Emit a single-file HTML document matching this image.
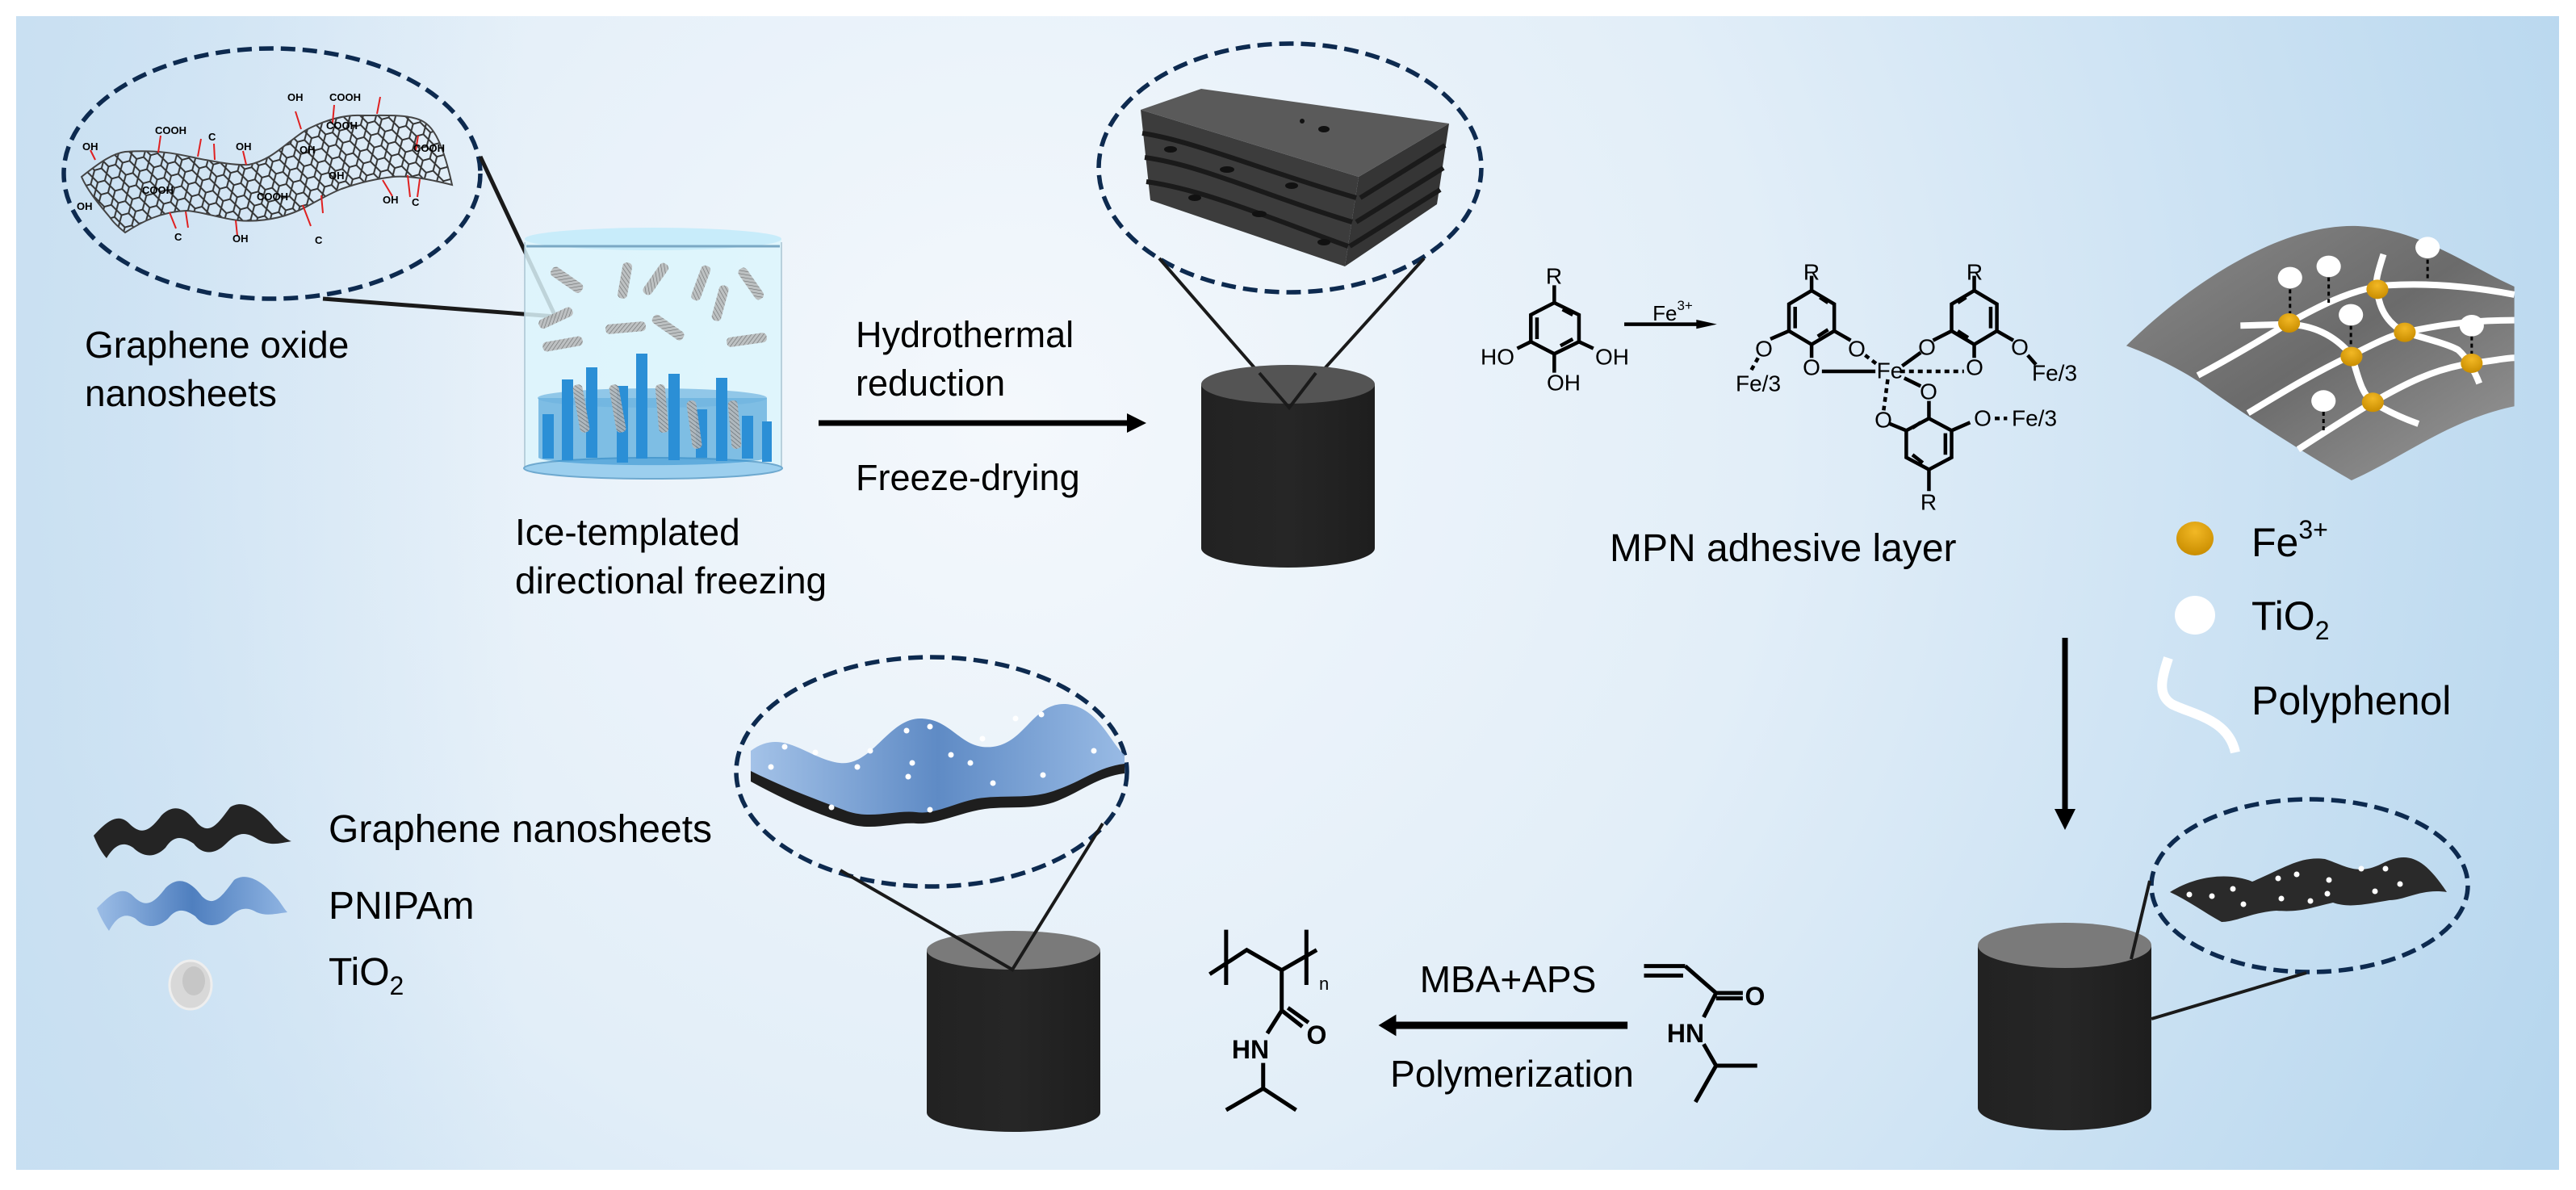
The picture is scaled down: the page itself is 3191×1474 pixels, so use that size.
<!DOCTYPE html>
<html><head><meta charset="utf-8"><style>
html,body{margin:0;padding:0;background:#fff;}
svg{display:block;}
text{font-family:"Liberation Sans",Arial,sans-serif;fill:#000;}
</style></head><body>
<svg width="3191" height="1474" viewBox="0 0 3191 1474" xmlns="http://www.w3.org/2000/svg">
<defs>
<radialGradient id="bg" cx="1250" cy="520" r="2100" gradientUnits="userSpaceOnUse">
<stop offset="0" stop-color="#f4f8fc"/><stop offset="0.45" stop-color="#e2eef8"/><stop offset="1" stop-color="#b6d6ee"/>
</radialGradient>
<linearGradient id="lg" x1="0" x2="1" y1="0" y2="0"><stop offset="0" stop-color="#c6def1" stop-opacity="0.8"/><stop offset="0.2" stop-color="#c6def1" stop-opacity="0"/></linearGradient>
<linearGradient id="cyl" x1="0" x2="1"><stop offset="0" stop-color="#222"/><stop offset="0.5" stop-color="#262626"/><stop offset="1" stop-color="#1e1e1e"/></linearGradient>
<radialGradient id="fe" cx="0.5" cy="0.3" r="0.7"><stop offset="0" stop-color="#f2b825"/><stop offset="1" stop-color="#c98d00"/></radialGradient>
<linearGradient id="sheet" x1="0" y1="0" x2="1" y2="1"><stop offset="0" stop-color="#8a8a8a"/><stop offset="0.5" stop-color="#6b6b6b"/><stop offset="1" stop-color="#9a9a9a"/></linearGradient>
<linearGradient id="blue" x1="0" x2="1"><stop offset="0" stop-color="#9cbde6"/><stop offset="0.5" stop-color="#4f7fbf"/><stop offset="1" stop-color="#8fb4e2"/></linearGradient>
<pattern id="hex" width="18" height="15.6" patternUnits="userSpaceOnUse" patternTransform="rotate(-15)">
<path d="M0,7.8 L4.5,0 L13.5,0 L18,7.8 L13.5,15.6 L4.5,15.6 Z" fill="none" stroke="#333" stroke-width="2"/>
</pattern>
<pattern id="hatch" width="4" height="4" patternUnits="userSpaceOnUse" patternTransform="rotate(45)">
<rect width="4" height="4" fill="#b8b8b8"/><line x1="0" y1="0" x2="0" y2="4" stroke="#555" stroke-width="1.2"/>
</pattern>
</defs>

<rect width="3191" height="1474" fill="#fff"/>
<rect x="20" y="20" width="3150" height="1429" fill="url(#bg)"/>
<rect x="20" y="20" width="3150" height="1429" fill="url(#lg)"/>

<!-- ===== Top-left GO ellipse ===== -->
<g>
<path d="M101,219 C125,200 140,190 155,188 C200,185 225,192 244,196 C270,201 290,205 308,204 C340,198 360,170 385,158 C410,146 430,142 448,143 C475,143 495,142 512,146 C530,150 545,160 560,229 C540,224 510,217 487,219 C460,222 440,228 423,234 C400,243 380,258 359,265 C340,272 315,275 295,273 C270,270 250,262 231,261 C200,262 175,275 155,288 C145,280 140,275 136,269 C120,250 108,235 101,219 Z" fill="url(#hex)" stroke="#444" stroke-width="2"/>
<g stroke="#e02020" stroke-width="2">
<line x1="118" y1="198" x2="112" y2="186"/><line x1="196" y1="189" x2="199" y2="168"/><line x1="245" y1="194" x2="249" y2="172"/><line x1="266" y1="198" x2="265" y2="178"/>
<line x1="305" y1="204" x2="301" y2="187"/><line x1="373" y1="160" x2="366" y2="138"/><line x1="412" y1="152" x2="414" y2="130"/><line x1="467" y1="141" x2="471" y2="120"/>
<line x1="515" y1="186" x2="518" y2="168"/><line x1="210" y1="263" x2="218" y2="283"/><line x1="230" y1="262" x2="233" y2="282"/><line x1="292" y1="273" x2="294" y2="292"/>
<line x1="375" y1="254" x2="385" y2="280"/><line x1="398" y1="242" x2="400" y2="264"/><line x1="474" y1="223" x2="486" y2="243"/><line x1="505" y1="217" x2="508" y2="244"/><line x1="520" y1="222" x2="517" y2="244"/>
</g>
<g font-size="13" font-weight="bold">
<text x="102" y="186">OH</text><text x="192" y="166">COOH</text><text x="258" y="174">C</text><text x="292" y="186">OH</text><text x="356" y="125">OH</text>
<text x="408" y="125">COOH</text><text x="404" y="160">COOH</text><text x="371" y="190">OH</text><text x="512" y="188">COOH</text><text x="407" y="222">OH</text>
<text x="176" y="240">COOH</text><text x="318" y="248">COOH</text><text x="216" y="298">C</text><text x="288" y="300">OH</text><text x="390" y="302">C</text><text x="474" y="252">OH</text><text x="510" y="255">C</text><text x="95" y="260">OH</text>
</g>
<ellipse cx="337" cy="215" rx="258" ry="155" fill="none" stroke="#0d2a4f" stroke-width="5.5" stroke-dasharray="18,9"/>
<polyline points="400,370 688,392 595,194" fill="none" stroke="#1a1a1a" stroke-width="5"/>
</g>

<!-- Beaker -->
<g>
<path d="M650,296 L650,578 L968,578 L968,296 Z" fill="#dcf4fc" opacity="0.85"/>
<ellipse cx="809" cy="296" rx="159" ry="14" fill="#c8ecfa"/>
<line x1="652" y1="305" x2="966" y2="305" stroke="#7aa8c4" stroke-width="3"/>
<line x1="650" y1="300" x2="650" y2="578" stroke="#a9c4d2" stroke-width="1.5"/>
<line x1="968" y1="300" x2="968" y2="578" stroke="#a9c4d2" stroke-width="1.5"/>
<ellipse cx="809" cy="580" rx="160" ry="13" fill="#9ccfee" stroke="#6ea9cf" stroke-width="2"/>
<path d="M667,493 L667,567 A142,10 0 0 0 950,567 L950,493 Z" fill="#2f8fd0" opacity="0.55"/>
<ellipse cx="808" cy="493" rx="142" ry="12" fill="#6fb3e0" opacity="0.7"/>
<g fill="#2b8fd6">
<rect x="672" y="513" width="14" height="55"/><rect x="696" y="470" width="14" height="100"/><rect x="726" y="455" width="14" height="112"/>
<rect x="764" y="478" width="14" height="95"/><rect x="788" y="438" width="14" height="130"/><rect x="828" y="463" width="14" height="107"/>
<rect x="862" y="507" width="14" height="60"/><rect x="887" y="468" width="14" height="103"/><rect x="919" y="515" width="14" height="53"/><rect x="944" y="522" width="12" height="50"/>
</g>
<g fill="url(#hatch)" opacity="0.85">
<rect x="680" y="340" width="45" height="13" rx="5" transform="rotate(35 702 346)"/>
<rect x="752" y="342" width="45" height="12" rx="5" transform="rotate(-80 774 348)"/>
<rect x="790" y="340" width="45" height="12" rx="5" transform="rotate(-55 812 346)"/>
<rect x="846" y="345" width="45" height="12" rx="5" transform="rotate(-70 868 351)"/>
<rect x="908" y="345" width="45" height="12" rx="5" transform="rotate(55 930 351)"/>
<rect x="666" y="388" width="45" height="12" rx="5" transform="rotate(-25 688 394)"/>
<rect x="750" y="400" width="50" height="12" rx="5" transform="rotate(-5 775 406)"/>
<rect x="805" y="400" width="45" height="12" rx="5" transform="rotate(35 828 406)"/>
<rect x="870" y="370" width="45" height="12" rx="5" transform="rotate(-75 892 376)"/>
<rect x="900" y="415" width="50" height="12" rx="5" transform="rotate(-8 925 421)"/>
<rect x="672" y="420" width="50" height="12" rx="5" transform="rotate(-10 697 426)"/>
<rect x="690" y="500" width="60" height="12" rx="5" transform="rotate(80 720 506)"/>
<rect x="735" y="500" width="60" height="12" rx="5" transform="rotate(80 765 506)"/>
<rect x="790" y="500" width="60" height="12" rx="5" transform="rotate(85 820 506)"/>
<rect x="830" y="520" width="60" height="12" rx="5" transform="rotate(82 860 526)"/>
<rect x="880" y="520" width="60" height="12" rx="5" transform="rotate(85 910 526)"/>
</g>
</g>
<g font-size="46">
<text x="105" y="443">Graphene oxide</text><text x="105" y="503">nanosheets</text>
<text x="638" y="675">Ice-templated</text><text x="638" y="735">directional freezing</text>
<text x="1060" y="430" font-size="45">Hydrothermal</text><text x="1060" y="490" font-size="45">reduction</text>
<text x="1060" y="607" font-size="45">Freeze-drying</text>
</g>
<line x1="1014" y1="524" x2="1398" y2="524" stroke="#000" stroke-width="7"/>
<polygon points="1420,524 1396,512 1396,536" fill="#000"/>

<!-- top middle -->
<ellipse cx="1598" cy="208" rx="237" ry="154" fill="none" stroke="#0d2a4f" stroke-width="5.5" stroke-dasharray="18,9"/>
<g>
<polygon points="1413,136 1683,219 1666,330 1425,248" fill="#3c3c3c"/>
<polygon points="1683,219 1795,153 1780,253 1666,330" fill="#353535"/>
<polygon points="1413,136 1488,110 1795,153 1683,219" fill="#5a5a5a"/>
<g stroke="#1a1a1a" stroke-width="6" fill="none">
<path d="M1415,165 C1480,175 1560,210 1680,245"/><path d="M1418,195 C1490,205 1560,240 1675,275"/><path d="M1420,225 C1490,235 1560,265 1670,305"/>
<path d="M1685,245 L1790,180"/><path d="M1680,275 L1788,208"/><path d="M1672,305 L1784,235"/>
</g>
<g fill="#111"><ellipse cx="1450" cy="185" rx="8" ry="4"/><ellipse cx="1520" cy="210" rx="9" ry="4"/><ellipse cx="1600" cy="230" rx="8" ry="4"/><ellipse cx="1480" cy="245" rx="8" ry="4"/><ellipse cx="1560" cy="265" rx="9" ry="4"/><ellipse cx="1640" cy="300" rx="8" ry="4"/><ellipse cx="1640" cy="160" rx="7" ry="4"/><circle cx="1613" cy="150" r="3"/></g>
</g>
<polyline points="1436,320 1597,505 1764,320" fill="none" stroke="#1a1a1a" stroke-width="4"/>
<path d="M1488,476 L1488,679 A107.5,24 0 0 0 1703,679 L1703,476 Z" fill="url(#cyl)"/>
<ellipse cx="1595.5" cy="476" rx="107.5" ry="24" fill="#545454"/>
<polyline points="1560,462 1597,505 1630,462" fill="none" stroke="#1a1a1a" stroke-width="4"/>

<!-- chemistry top -->
<g transform="translate(1780,160) scale(0.51,0.3333)" fill="none" stroke="#000" stroke-width="4.5">
<path vector-effect="non-scaling-stroke" d="M285,645 L345,690 L345,790 L285,835 L228,790 L228,690 Z M285,645 L285,580 M228,790 L195,815 M345,790 L380,815 M285,835 L285,905 M305,670 L330,690 M330,780 L300,805 M243,700 L243,780"/>
<path vector-effect="non-scaling-stroke" d="M455,725 L640,725"/>
<path vector-effect="non-scaling-stroke" d="M910,600 L965,650 L965,750 L910,800 L855,750 L855,650 Z M910,600 L910,545 M930,625 L950,645 M950,745 L925,770 M870,660 L870,740 M965,750 L1005,785 M910,800 L910,850 M855,750 L810,780 M935,900 L1065,900"/>
<path vector-effect="non-scaling-stroke" d="M1305,600 L1360,650 L1360,750 L1305,800 L1250,750 L1250,650 Z M1305,600 L1305,545 M1285,625 L1265,645 M1345,660 L1345,740 M1290,775 L1265,750 M1250,750 L1205,785 M1305,800 L1305,850 M1360,750 L1400,785 M1175,830 L1130,880 M1435,840 L1455,875"/>
<path vector-effect="non-scaling-stroke" d="M1195,1075 L1250,1120 L1250,1220 L1195,1265 L1140,1220 L1140,1120 Z M1195,1265 L1195,1345 M1235,1130 L1235,1210 M1155,1210 L1180,1240 M1175,1090 L1155,1110 M1195,1075 L1195,1010 M1140,1120 L1100,1095 M1250,1120 L1295,1090 M1175,955 L1135,925"/>
<path vector-effect="non-scaling-stroke" stroke-dasharray="6,5" d="M780,850 L760,905 M1040,840 L1070,875 M1125,900 L1280,900 M1095,930 L1085,1045 M1355,1075 L1385,1075"/>
<polygon points="680,725 630,708 630,742" fill="#000" stroke="none"/>
</g>
<g font-size="28" text-anchor="middle" dominant-baseline="central">
<text x="1925" y="342">R</text><text x="1855" y="442">HO</text><text x="1997" y="442">OH</text><text x="1937" y="474">OH</text>
<text x="2072" y="388" font-size="26">Fe<tspan font-size="17" dy="-10">3+</tspan></text>
<text x="2244" y="337">R</text><text x="2446" y="337">R</text><text x="2389" y="622">R</text>
<text x="2300" y="432">O</text><text x="2244" y="455">O</text><text x="2185" y="432">O</text><text x="2341" y="459">Fe</text>
<text x="2387" y="430">O</text><text x="2446" y="455">O</text><text x="2502" y="430">O</text><text x="2389" y="485">O</text>
<text x="2333" y="520">O</text><text x="2456" y="518">O</text>
<text x="2178" y="475">Fe/3</text><text x="2545" y="462">Fe/3</text><text x="2520" y="518">Fe/3</text>
</g>
<text x="1994" y="695" font-size="48">MPN adhesive layer</text>

<!-- top-right sheet -->
<g transform="translate(2600,200) scale(0.377,0.3333)">
<path d="M90,685 C300,450 600,230 850,240 C1050,250 1200,380 1365,465 L1365,910 C1150,960 1000,1100 830,1185 C700,1100 500,960 330,820 C250,760 150,710 90,685 Z" fill="url(#sheet)"/>
<g fill="none" stroke="#fff" stroke-width="8">
<path vector-effect="non-scaling-stroke" d="M325,795 C450,720 550,650 625,600 C750,520 850,470 950,460 C1100,450 1250,470 1365,495"/>
<path vector-effect="non-scaling-stroke" d="M465,610 L625,605 C700,610 770,640 830,720 C850,790 860,860 900,895 C950,930 1000,955 1050,975"/>
<path vector-effect="non-scaling-stroke" d="M490,935 C600,860 700,790 830,720 C900,680 950,650 1005,635 C1150,600 1250,590 1365,590"/>
<path vector-effect="non-scaling-stroke" d="M655,1070 C750,1000 820,950 900,895 C1000,830 1100,770 1225,750 C1300,740 1340,730 1365,730"/>
<path vector-effect="non-scaling-stroke" d="M935,345 C920,400 905,450 915,475 C920,560 960,610 1005,635 C1080,660 1150,680 1180,700 C1210,730 1235,780 1250,825"/>
</g>
<g stroke="#000" stroke-width="3" stroke-dasharray="5,4">
<line vector-effect="non-scaling-stroke" x1="628" y1="475" x2="628" y2="565"/><line vector-effect="non-scaling-stroke" x1="755" y1="430" x2="755" y2="525"/>
<line vector-effect="non-scaling-stroke" x1="828" y1="610" x2="828" y2="690"/><line vector-effect="non-scaling-stroke" x1="1080" y1="365" x2="1080" y2="440"/>
<line vector-effect="non-scaling-stroke" x1="1225" y1="650" x2="1225" y2="720"/><line vector-effect="non-scaling-stroke" x1="738" y1="930" x2="738" y2="1000"/>
</g>
<g fill="url(#fe)"><circle cx="625" cy="600" r="36"/><circle cx="915" cy="475" r="36"/><circle cx="1005" cy="635" r="36"/><circle cx="830" cy="725" r="36"/><circle cx="1225" cy="750" r="36"/><circle cx="900" cy="895" r="36"/></g>
<g fill="#fff"><circle cx="628" cy="432" r="40"/><circle cx="755" cy="390" r="40"/><circle cx="828" cy="570" r="40"/><circle cx="1080" cy="320" r="40"/><circle cx="1225" cy="610" r="40"/><circle cx="738" cy="890" r="40"/></g>
</g>

<!-- legend right -->
<ellipse cx="2719" cy="667" rx="23" ry="21" fill="url(#fe)"/>
<ellipse cx="2719" cy="762" rx="25" ry="24" fill="#fff"/>
<path d="M2686,815 C2678,840 2672,860 2690,872 C2715,885 2760,890 2769,932" fill="none" stroke="#fff" stroke-width="12"/>
<g font-size="50">
<text x="2789" y="689">Fe<tspan font-size="32" dy="-22">3+</tspan></text>
<text x="2789" y="780">TiO<tspan font-size="32" dy="12">2</tspan></text>
<text x="2789" y="885">Polyphenol</text>
</g>
<line x1="2558" y1="790" x2="2558" y2="1005" stroke="#000" stroke-width="7"/>
<polygon points="2558,1028 2545,1002 2571,1002" fill="#000"/>

<!-- bottom-right -->
<ellipse cx="2861" cy="1097" rx="196" ry="107" fill="none" stroke="#0d2a4f" stroke-width="5.5" stroke-dasharray="18,9"/>
<path d="M2688,1105 C2720,1085 2760,1080 2790,1092 C2830,1075 2850,1060 2880,1064 C2905,1072 2920,1085 2950,1070 C2980,1055 3000,1058 3031,1105 C3000,1100 2980,1115 2960,1115 C2930,1120 2910,1125 2890,1118 C2860,1125 2850,1130 2820,1128 C2790,1130 2770,1142 2752,1142 C2730,1130 2710,1115 2688,1105 Z" fill="#2a2a2a"/>
<g fill="#fff"><circle cx="2712" cy="1108" r="3.5"/><circle cx="2740" cy="1110" r="3.5"/><circle cx="2766" cy="1101" r="3.5"/><circle cx="2779" cy="1120" r="3.5"/><circle cx="2822" cy="1088" r="3.5"/><circle cx="2845" cy="1083" r="3.5"/><circle cx="2826" cy="1113" r="3.5"/><circle cx="2862" cy="1116" r="3.5"/><circle cx="2885" cy="1090" r="3.5"/><circle cx="2883" cy="1107" r="3.5"/><circle cx="2925" cy="1076" r="3.5"/><circle cx="2955" cy="1076" r="3.5"/><circle cx="2942" cy="1104" r="3.5"/><circle cx="2973" cy="1095" r="3.5"/></g>
<path d="M2450,1171 L2450,1372 A107.5,28 0 0 0 2665,1372 L2665,1171 Z" fill="url(#cyl)"/>
<ellipse cx="2557.5" cy="1171" rx="107.5" ry="28" fill="#7a7a7a"/>
<line x1="2663" y1="1091" x2="2640" y2="1188" stroke="#1a1a1a" stroke-width="4"/>
<line x1="2857" y1="1205" x2="2665" y2="1262" stroke="#1a1a1a" stroke-width="4"/>

<!-- bottom chemistry -->
<g transform="translate(1450,1100) scale(0.51,0.3333)" fill="none" stroke="#000" stroke-width="5">
<path vector-effect="non-scaling-stroke" d="M135,155 L135,360 M330,155 L330,360 M95,320 L185,230 L270,305 L355,230 M270,305 L270,455 M270,455 L320,515 M285,445 L335,500 M270,455 L235,540 M225,650 L225,745 M135,825 L225,745 L305,825"/>
<path vector-effect="non-scaling-stroke" d="M1150,290 L1250,290 M1150,325 L1245,325 M1250,290 L1325,390 M1325,390 L1390,390 M1325,410 L1390,410 M1325,390 L1295,480 M1295,580 L1325,660 L1425,660 M1325,660 L1275,795"/>
<path vector-effect="non-scaling-stroke" stroke-width="9" d="M1110,510 L540,510"/>
<polygon points="505,510 548,470 548,550" fill="#000" stroke="none"/>
</g>
<g font-weight="bold" font-size="32" text-anchor="middle" dominant-baseline="central">
<text x="1631" y="1282">O</text><text x="1549" y="1300">HN</text>
<text x="2174" y="1234">O</text><text x="2088" y="1280">HN</text>
</g>
<text x="1634" y="1226" font-size="22">n</text>
<text x="1868" y="1229" font-size="46" text-anchor="middle">MBA+APS</text>
<text x="1873" y="1346" font-size="46" text-anchor="middle">Polymerization</text>

<!-- bottom-middle -->
<ellipse cx="1154" cy="956" rx="242" ry="142" fill="none" stroke="#0d2a4f" stroke-width="5.5" stroke-dasharray="18,9"/>
<path d="M930,930 C970,900 1000,940 1040,945 C1080,950 1100,890 1140,890 C1180,890 1190,930 1230,925 C1270,920 1280,870 1320,872 C1360,875 1375,920 1393,935 L1393,955 C1370,950 1350,975 1310,985 C1270,995 1250,995 1220,995 C1180,995 1160,1020 1130,1015 C1100,1010 1080,1020 1050,1012 C1010,1000 970,975 930,960 Z" fill="url(#blue)" opacity="0.9"/>
<path d="M930,955 C970,975 1010,990 1050,1005 C1080,1015 1110,1003 1135,1006 C1160,1010 1190,990 1220,988 C1250,985 1280,990 1310,978 C1340,968 1360,950 1393,946 L1393,958 C1360,962 1340,980 1310,992 C1280,1004 1250,998 1220,1002 C1190,1006 1160,1022 1135,1020 C1110,1018 1080,1030 1050,1020 C1010,1008 970,990 930,968 Z" fill="#1e1e1e"/>
<g fill="#fff"><circle cx="972" cy="925" r="3.5"/><circle cx="1010" cy="932" r="3.5"/><circle cx="1078" cy="930" r="3.5"/><circle cx="1123" cy="905" r="3.5"/><circle cx="1152" cy="900" r="3.5"/><circle cx="1217" cy="915" r="3.5"/><circle cx="1258" cy="890" r="3.5"/><circle cx="1290" cy="885" r="3.5"/><circle cx="1062" cy="950" r="3.5"/><circle cx="1130" cy="945" r="3.5"/><circle cx="1178" cy="935" r="3.5"/><circle cx="1202" cy="945" r="3.5"/><circle cx="1125" cy="962" r="3.5"/><circle cx="955" cy="950" r="3.5"/><circle cx="1030" cy="1000" r="3.5"/><circle cx="1152" cy="1003" r="3.5"/><circle cx="1230" cy="970" r="3.5"/><circle cx="1292" cy="960" r="3.5"/><circle cx="1355" cy="930" r="3.5"/></g>
<path d="M1148,1177 L1148,1378 A107.5,24 0 0 0 1363,1378 L1363,1177 Z" fill="url(#cyl)"/>
<ellipse cx="1255.5" cy="1177" rx="107.5" ry="24" fill="#7a7a7a"/>
<polyline points="1041,1078 1254,1201 1366,1020" fill="none" stroke="#1a1a1a" stroke-width="4"/>

<!-- bottom-left legend -->
<path d="M116,1035 C130,1020 145,1005 160,1020 C175,1035 185,1030 200,1010 C215,995 230,1000 245,1020 C260,1035 270,1020 285,1000 C300,990 320,1000 340,1025 C350,1035 355,1040 361,1042 C345,1045 335,1048 320,1040 C305,1030 295,1030 280,1045 C265,1060 250,1058 240,1045 C225,1035 215,1035 205,1050 C190,1065 175,1060 165,1050 C150,1040 140,1050 132,1063 C125,1055 120,1045 116,1035 Z" fill="#242424"/>
<path d="M120,1125 C135,1110 150,1095 165,1110 C180,1125 190,1120 205,1100 C220,1085 235,1090 250,1110 C265,1125 275,1110 290,1090 C305,1080 325,1090 345,1115 C350,1122 353,1127 356,1130 C340,1132 330,1135 318,1130 C305,1122 295,1125 282,1138 C268,1150 252,1148 242,1135 C228,1125 218,1125 208,1138 C192,1152 178,1148 168,1138 C152,1128 142,1140 135,1153 C128,1143 124,1135 120,1125 Z" fill="url(#blue)"/>
<ellipse cx="236" cy="1220" rx="26" ry="30" fill="#d8d8d8" stroke="#eee" stroke-width="3"/>
<ellipse cx="240" cy="1215" rx="14" ry="18" fill="#bbb" opacity="0.6"/>
<g font-size="48">
<text x="407" y="1043">Graphene nanosheets</text>
<text x="407" y="1138">PNIPAm</text>
<text x="407" y="1220">TiO<tspan font-size="32" dy="12">2</tspan></text>
</g>
</svg>
</body></html>
